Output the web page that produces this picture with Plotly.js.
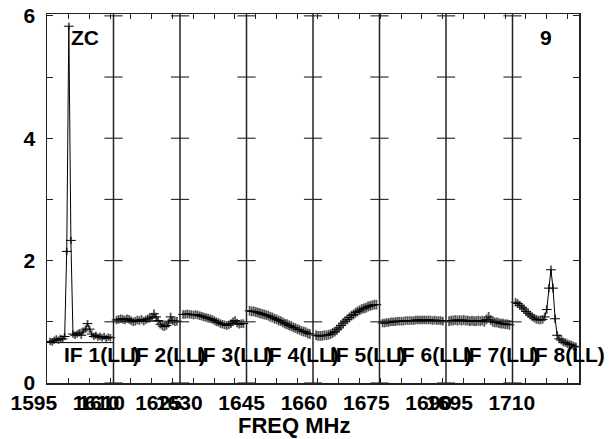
<!DOCTYPE html>
<html>
<head>
<meta charset="utf-8">
<script src="https://cdn.plot.ly/plotly-3.0.1.min.js"></script>
<style>html,body{margin:0;padding:0;background:#fff;}#chart{width:614px;height:439px;}</style>
</head>
<body>
<div id="chart"></div>
<script>
// ---- data ----
const IF_START = [1594.8, 1610.8, 1626.8, 1642.8, 1658.8, 1674.8, 1690.8, 1706.8];
const IF_WIDTH = 16;
const CHAN_WIDTH = 0.5;
const IF_LABELS = ['IF 1(LL)', 'IF 2(LL)', 'IF 3(LL)', 'IF 4(LL)', 'IF 5(LL)', 'IF 6(LL)', 'IF 7(LL)', 'IF 8(LL)'];

const amp_if1 = [0.68,0.67,0.70,0.72,0.70,0.73,0.72,0.76,2.15,5.83,2.33,0.80,0.78,0.80,0.82,0.78,0.85,0.88,0.97,0.88,0.80,0.76,0.78,0.75,0.76,0.74,0.76,0.73,0.75,0.74];
const amp_if2 = [1.03,1.04,1.05,1.04,1.03,1.05,1.04,1.02,1.00,1.01,1.03,1.02,1.04,1.01,1.03,1.05,1.06,1.08,1.13,1.08,1.02,0.96,0.93,0.92,0.94,0.98,1.08,1.02,1.00,1.01];
const amp_if3 = [1.12,1.12,1.13,1.12,1.12,1.11,1.12,1.11,1.10,1.09,1.08,1.07,1.06,1.05,1.04,1.02,1.00,0.99,0.97,0.96,0.95,0.94,0.95,0.97,1.00,1.02,0.98,0.96,0.97,0.97];
const amp_if4 = [1.18,1.17,1.17,1.16,1.15,1.14,1.13,1.12,1.11,1.10,1.08,1.07,1.05,1.04,1.02,1.01,0.99,0.97,0.96,0.94,0.93,0.91,0.90,0.88,0.87,0.85,0.84,0.83,0.81,0.80];
const amp_if5 = [0.78,0.77,0.77,0.77,0.78,0.78,0.79,0.80,0.82,0.84,0.87,0.90,0.94,0.98,1.01,1.04,1.07,1.10,1.12,1.15,1.17,1.19,1.21,1.22,1.23,1.25,1.26,1.27,1.28,1.28];
const amp_if6 = [0.98,0.98,0.99,0.99,1.00,1.00,1.00,1.01,1.01,1.01,1.01,1.02,1.02,1.02,1.02,1.02,1.03,1.03,1.03,1.03,1.03,1.03,1.03,1.03,1.02,1.03,1.02,1.02,1.02,1.01];
const amp_if7 = [1.01,1.02,1.02,1.03,1.02,1.03,1.02,1.03,1.02,1.02,1.01,1.02,1.01,1.01,1.02,1.01,1.02,1.00,1.04,1.08,1.03,1.00,0.99,0.99,0.98,0.97,0.97,0.96,0.96,0.95];
const amp_if8 = [1.32,1.30,1.27,1.24,1.21,1.17,1.14,1.11,1.08,1.06,1.04,1.03,1.03,1.04,1.08,1.20,1.55,1.85,1.55,1.05,0.78,0.72,0.70,0.67,0.66,0.64,0.63,0.62,0.60,0.59];
const AMPS = [amp_if1, amp_if2, amp_if3, amp_if4, amp_if5, amp_if6, amp_if7, amp_if8];
const ERR_IF = [0.06, 0.07, 0.07, 0.08, 0.08, 0.07, 0.08, 0.07];
const LEVEL_IF = [0.66, 1.01, null, null, null, 1.01, 1.01, null];

const X_TICK_VALS = [1595, 1610, 1611.3, 1625, 1630, 1645, 1660, 1675, 1690, 1695, 1710];
const X_TICK_TEXT = ['1595', '1610', '1610', '1625', '1630', '1645', '1660', '1675', '1690', '1695', '1710'];
const Y_TICK_VALS = [0, 1, 2, 3, 4, 5, 6];
const Y_TICK_TEXT = ['0', '', '2', '', '4', '', '6'];

// ---- build ----
const FONT = 'Liberation Sans, Arial, sans-serif';
const B = s => (s === '' ? '' : '<b>' + s + '</b>');
const traces = [];
AMPS.forEach((amps, k) => {
  const x = amps.map((_, i) => IF_START[k] + CHAN_WIDTH * (i + 1.5));
  traces.push({
    type: 'scatter', mode: 'lines+markers', x: x, y: amps,
    line: {color: '#000', width: 1},
    marker: {symbol: 'line-ew', size: 7, color: '#000', line: {color: '#000', width: 1}},
    error_y: {type: 'data', array: amps.map(() => ERR_IF[k]), color: '#555', thickness: 1.8, width: 0},
    showlegend: false, hoverinfo: 'skip'
  });
  if (LEVEL_IF[k] !== null) {
    traces.push({
      type: 'scatter', mode: 'lines',
      x: [IF_START[k], IF_START[k] + IF_WIDTH], y: [LEVEL_IF[k], LEVEL_IF[k]],
      line: {color: '#000', width: 1}, showlegend: false, hoverinfo: 'skip'
    });
  }
});

// divider tick crosses (on the tick-mark axis x2)
const dx = [], dy = [];
for (let k = 1; k < IF_START.length; k++) {
  Y_TICK_VALS.forEach(v => { dx.push(IF_START[k]); dy.push(v); });
}
traces.push({
  type: 'scatter', mode: 'markers', x: dx, y: dy, xaxis: 'x2', yaxis: 'y',
  marker: {symbol: 'line-ew', size: 13, color: '#333', line: {color: '#333', width: 1.2}},
  showlegend: false, hoverinfo: 'skip', cliponaxis: false
});

const shapes = [];
for (let k = 1; k < IF_START.length; k++) {
  shapes.push({type: 'line', xref: 'x', yref: 'paper', x0: IF_START[k], x1: IF_START[k], y0: 0, y1: 1,
    line: {color: '#222', width: 1.5}});
}

const TXT = {family: FONT, size: 21, color: '#000'};
const annotations = [];
IF_LABELS.forEach((t, k) => {
  annotations.push({text: B(t), xref: 'x', yref: 'y', x: IF_START[k] + 3.6, y: 0.47,
    xanchor: 'left', yanchor: 'middle', showarrow: false, font: TXT});
});
annotations.push({text: B('ZC'), xref: 'paper', yref: 'paper', x: 0.0714, y: 0.935, xanchor: 'center', yanchor: 'middle',
  showarrow: false, font: TXT});
annotations.push({text: B('9'), xref: 'paper', yref: 'paper', x: 0.938, y: 0.935, xanchor: 'center', yanchor: 'middle',
  showarrow: false, font: TXT});
annotations.push({text: B('FREQ MHz'), xref: 'paper', yref: 'paper', x: 0.464, y: -0.114, xanchor: 'center', yanchor: 'middle',
  showarrow: false, font: {family: FONT, size: 22, color: '#000'}});

const X_RANGE = [IF_START[0], IF_START[IF_START.length - 1] + IF_WIDTH];
const layout = {
  width: 614, height: 439,
  margin: {l: 47, r: 35, t: 14, b: 56},
  paper_bgcolor: '#fff', plot_bgcolor: '#fff',
  showlegend: false,
  font: TXT,
  xaxis: {
    range: X_RANGE,
    tickmode: 'array', tickvals: X_TICK_VALS, ticktext: X_TICK_TEXT.map(B),
    tickangle: 0, ticks: '', ticklen: 0,
    ticklabelshift: -14, ticklabelstandoff: 0,
    showline: true, linecolor: '#222', linewidth: 1.5, mirror: true,
    showgrid: false, zeroline: false,
    tickfont: TXT
  },
  xaxis2: {
    range: X_RANGE, overlaying: 'x', anchor: 'y', side: 'bottom',
    tickmode: 'linear', tick0: 1595, dtick: 5,
    ticks: 'inside', ticklen: 5, tickwidth: 1, tickcolor: '#222',
    showticklabels: false, showline: false, mirror: 'ticks',
    showgrid: false, zeroline: false
  },
  yaxis: {
    range: [0, 6.03],
    tickmode: 'array', tickvals: Y_TICK_VALS, ticktext: Y_TICK_TEXT.map(B),
    ticks: 'inside', ticklen: 6, tickwidth: 1, tickcolor: '#222',
    ticklabelstandoff: 6,
    showline: true, linecolor: '#222', linewidth: 1.5, mirror: 'ticks',
    showgrid: false, zeroline: false,
    tickfont: TXT
  },
  shapes: shapes,
  annotations: annotations
};

Plotly.newPlot('chart', traces, layout, {staticPlot: true, displayModeBar: false});
</script>
</body>
</html>
